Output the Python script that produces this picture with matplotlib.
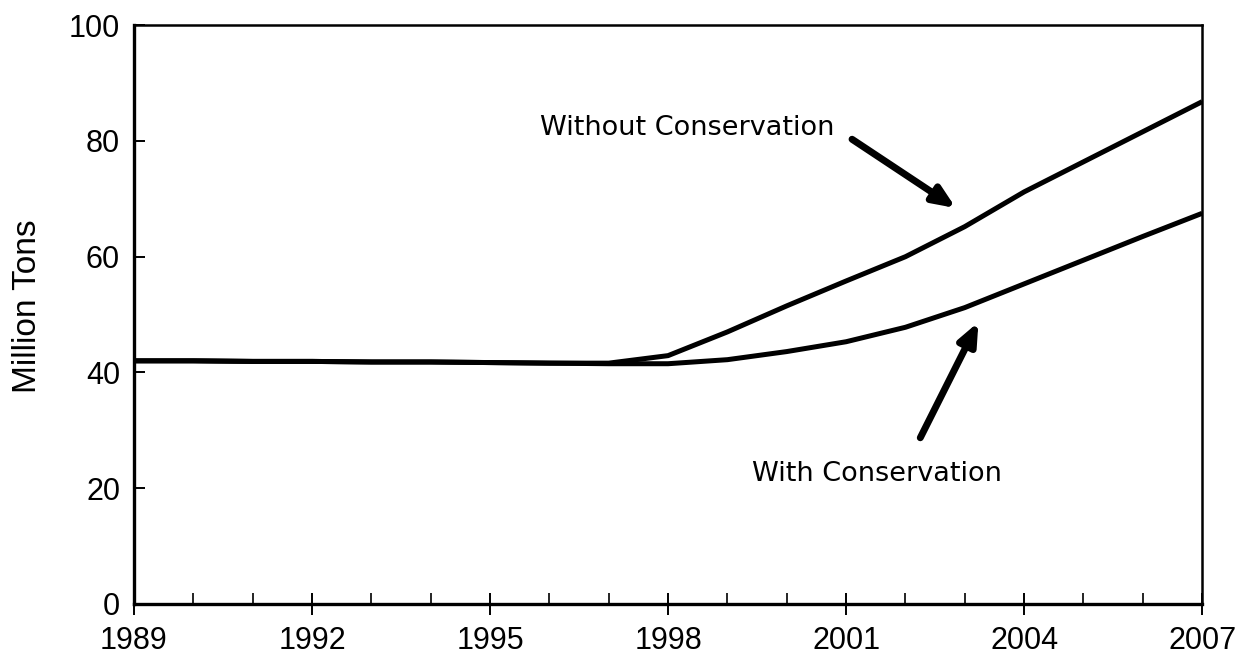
import matplotlib
matplotlib.use("Agg")
import matplotlib.pyplot as plt
from matplotlib.ticker import MultipleLocator

# demand projection, million tons per year
years = [1989, 1990, 1991, 1992, 1993, 1994, 1995, 1996, 1997, 1998,
         1999, 2000, 2001, 2002, 2003, 2004, 2005, 2006, 2007]
without_cons = [42.0, 42.0, 41.9, 41.9, 41.8, 41.8, 41.7, 41.6, 41.6, 42.9,
                47.0, 51.5, 55.8, 60.0, 65.2, 71.2, 76.4, 81.6, 86.8]
with_cons = [42.0, 42.0, 41.9, 41.9, 41.8, 41.8, 41.7, 41.6, 41.5, 41.5,
             42.2, 43.6, 45.3, 47.8, 51.2, 55.3, 59.4, 63.5, 67.5]

year_ticks = [1989, 1992, 1995, 1998, 2001, 2004, 2007]
ton_ticks = [0, 20, 40, 60, 80, 100]

plt.rcParams['font.family'] = ['Liberation Sans', 'DejaVu Sans']

fig = plt.figure(figsize=(12.45, 6.65), dpi=100)
ax = fig.add_axes([0.1076, 0.092, 0.858, 0.87])

ax.plot(years, without_cons, color='black', lw=3.6, solid_capstyle='butt')
ax.plot(years, with_cons, color='black', lw=3.6, solid_capstyle='butt')

ax.set_xlim(years[0], years[-1])
ax.set_ylim(0, 100)
ax.set_xticks(year_ticks)
ax.xaxis.set_minor_locator(MultipleLocator(1))
ax.set_yticks(ton_ticks)

for side in ['left', 'bottom']:
    ax.spines[side].set_linewidth(2.4)
for side in ['top', 'right']:
    ax.spines[side].set_linewidth(1.8)

ax.tick_params(axis='x', which='major', direction='inout', length=16, width=1.4,
               labelsize=22, pad=8)
ax.tick_params(axis='x', which='minor', direction='in', length=8, width=1.2)
ax.tick_params(axis='y', which='major', direction='in', length=8, width=1.4,
               labelsize=22, pad=10)

ax.set_ylabel('Million Tons', fontsize=24)
ax.yaxis.set_label_coords(-0.085, 0.515)

arrow_style = dict(arrowstyle='-|>,head_length=1.3,head_width=0.55',
                   color='black', lw=5, shrinkA=0, shrinkB=0)
note_font = dict(family='DejaVu Sans', fontsize=19.5, va='center', ha='left')

ax.annotate('', xy=(2002.85, 68.4), xytext=(2001.1, 80.3), arrowprops=arrow_style)
ax.text(1995.84, 82.2, 'Without Conservation', **note_font)

ax.annotate('', xy=(2003.23, 48.7), xytext=(2002.25, 28.7), arrowprops=arrow_style)
ax.text(1999.42, 22.5, 'With Conservation', **note_font)

fig.savefig('out.png', dpi=100)
